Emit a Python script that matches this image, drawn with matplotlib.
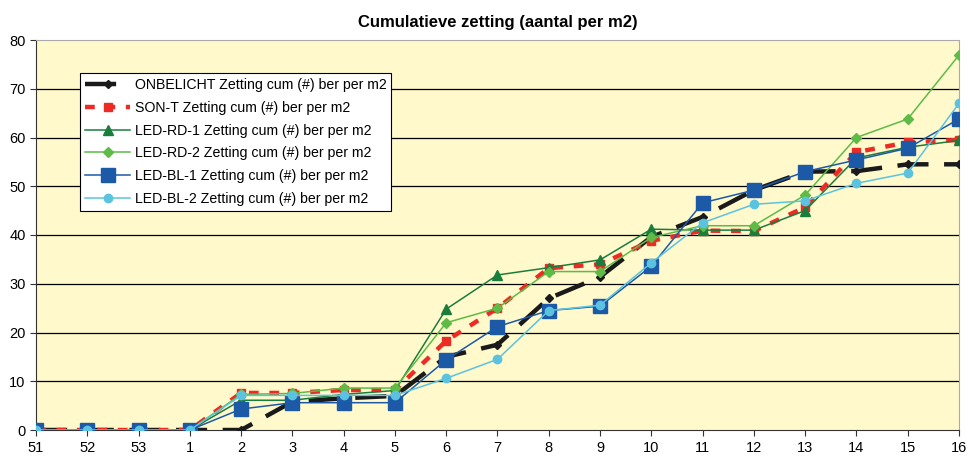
import matplotlib
matplotlib.use("Agg")
import matplotlib.pyplot as plt

plt.rcParams['font.family'] = ['Liberation Sans', 'DejaVu Sans']

# categories (week numbers)
weeks = ['51', '52', '53', '1', '2', '3', '4', '5', '6', '7', '8', '9',
         '10', '11', '12', '13', '14', '15', '16']

onbelicht = [0, 0, 0, 0, 0, 5.8, 6.5, 7, 15, 17.5, 27, 31.4, 39.6, 43.7, 49.2, 53, 53.1, 54.5, 54.5]
son_t = [0, 0, 0, 0, 7.6, 7.6, 8.2, 8.2, 18.3, 25, 33.2, 34, 38.8, 40.9, 40.8, 45.7, 57, 59, 59.5]
led_rd_1 = [0, 0, 0, 0, 6.1, 6.1, 7.3, 8.1, 24.8, 31.8, 33.3, 34.9, 41.2, 41, 41, 45, 55.8, 58, 59.4]
led_rd_2 = [0, 0, 0, 0, 7.3, 7.5, 8.6, 8.6, 22, 25, 32.5, 32.5, 39.5, 41.9, 41.9, 48.2, 60, 63.8, 76.9]
led_bl_1 = [0, 0, 0, 0, 4.3, 5.6, 5.6, 5.6, 14.4, 21.2, 24.5, 25.4, 33.6, 46.6, 49.2, 53, 55.4, 57.8, 63.8]
led_bl_2 = [0, 0, 0, 0, 7.1, 7.1, 7.1, 7.1, 10.6, 14.5, 24.5, 25.6, 34.3, 42.5, 46.3, 47, 50.6, 52.7, 67]

labels = ['ONBELICHT Zetting cum (#) ber per m2',
          'SON-T Zetting cum (#) ber per m2',
          'LED-RD-1 Zetting cum (#) ber per m2',
          'LED-RD-2 Zetting cum (#) ber per m2',
          'LED-BL-1 Zetting cum (#) ber per m2',
          'LED-BL-2 Zetting cum (#) ber per m2']

x = list(range(len(weeks)))

fig = plt.figure(figsize=(9.69, 4.57), dpi=100)
ax = fig.add_axes([36/969, 27/457, (959-36)/969, (430-40)/457])
ax.set_facecolor('#FFF9CC')

# horizontal grid lines
for v in range(10, 80, 10):
    ax.axhline(v, color='black', lw=0.9, zorder=1)

ax.plot(x, onbelicht, color='#1a1a1a', lw=3.2, dashes=(7, 3.5), marker='D', ms=4,
        label=labels[0], zorder=3)
ax.plot(x, son_t, color='#EE2A24', lw=3.2, dashes=(2.2, 2.4), marker='s', ms=6,
        label=labels[1], zorder=3)
ax.plot(x, led_rd_1, color='#1A7D3C', lw=1.1, marker='^', ms=7, label=labels[2], zorder=4)
ax.plot(x, led_rd_2, color='#5DBB46', lw=1.1, marker='D', ms=5, label=labels[3], zorder=4)
ax.plot(x, led_bl_1, color='#1C5AA8', lw=1.1, marker='s', ms=10, label=labels[4], zorder=4)
ax.plot(x, led_bl_2, color='#5BC3E0', lw=1.1, marker='o', ms=6, label=labels[5], zorder=5)

ax.set_xlim(0, 18)
ax.set_ylim(0, 80)
ax.set_yticks(range(0, 81, 10))
ax.set_xticks(x)
ax.set_xticklabels(weeks)
ax.tick_params(labelsize=10.5, length=4, color='#333333')
ax.tick_params(axis='x', pad=4)
for s in ['top', 'right']:
    ax.spines[s].set_color('#aaaaaa')
ax.spines['left'].set_color('#333333')
ax.spines['bottom'].set_color('#333333')

ax.set_title('Cumulatieve zetting (aantal per m2)', fontsize=12, fontweight='bold', pad=9)

leg = ax.legend(loc='upper left', bbox_to_anchor=(44/923, 1 - 33/390), borderaxespad=0,
                fontsize=10.2, frameon=True, fancybox=False, edgecolor='black', framealpha=1,
                handlelength=3.2, handletextpad=0.3, borderpad=0.35, labelspacing=0.62)
leg.get_frame().set_linewidth(0.8)

fig.savefig('out.png', dpi=100)
